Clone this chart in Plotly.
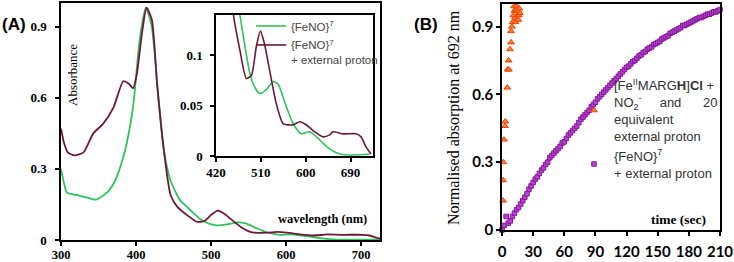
import plotly.graph_objects as go

# ---------------- Panel A data (UV-vis spectra) ----------------
wl_green = [300, 304, 308, 320, 334, 345, 355, 363, 372, 383, 392, 397, 405, 413, 421,
            430, 437, 446, 459, 468, 477, 488, 498, 508, 521, 535, 545, 561, 575, 591,
            608, 628, 648, 668, 695, 728]
abs_green = [0.30, 0.24, 0.20, 0.19, 0.18, 0.17, 0.185, 0.205, 0.25, 0.35, 0.48, 0.59, 0.85,
             0.98, 0.90, 0.59, 0.38, 0.25, 0.166, 0.14, 0.112, 0.082, 0.068, 0.062, 0.066,
             0.074, 0.071, 0.049, 0.032, 0.022, 0.024, 0.016, 0.007, 0.002, 0.001, 0.002]

wl_maroon = [300, 304, 309, 318, 330, 343, 356, 370, 383, 390, 396, 401, 408, 414, 421, 428,
             437, 446, 455, 468, 481, 491, 501, 509, 517, 528, 541, 555, 575, 588, 601, 618,
             635, 648, 655, 675, 701, 711, 721, 731]
abs_maroon = [0.47, 0.41, 0.37, 0.357, 0.37, 0.45, 0.49, 0.56, 0.67, 0.66, 0.64, 0.70, 0.875,
              0.98, 0.93, 0.66, 0.38, 0.19, 0.14, 0.105, 0.077, 0.08, 0.109, 0.124, 0.112,
              0.084, 0.052, 0.032, 0.031, 0.034, 0.031, 0.024, 0.019, 0.021, 0.024, 0.022,
              0.022, 0.019, 0.009, 0.002]

a_xticks = [300, 400, 500, 600, 700]
a_yticks = [0, 0.3, 0.6, 0.9]
inset_xticks = [420, 510, 600, 690]
inset_yticks = [0, 0.05, 0.1]

# ---------------- Panel B data (kinetics) ----------------
t_orange = [0.9, 1.1, 1.3, 1.9, 2.9, 3.2, 5.1, 5.5, 6.4, 6.7, 7.7, 8.7, 8.7, 9.6, 10.3, 10.9,
            11.6, 12.0, 12.5, 13.0, 13.5, 14.2, 14.7, 15.2, 15.7, 16.2, 16.7, 17.3]
v_orange = [0.13, 0.22, 0.30, 0.40, 0.46, 0.48, 0.63, 0.71, 0.75, 0.71, 0.80, 0.83, 0.88, 0.90,
            0.92, 0.95, 0.99, 0.97, 0.94, 0.92, 0.975, 0.99, 0.95, 0.97, 0.93, 0.95, 0.98, 0.96]

t_purple = list(range(0, 211, 2))
v_purple = [0.00, 0.02, 0.06, 0.03, 0.04, 0.06, 0.075, 0.09, 0.10, 0.115,
            0.13, 0.145, 0.16, 0.18, 0.195, 0.21, 0.225, 0.235, 0.25, 0.265,
            0.275, 0.29, 0.30, 0.32, 0.33, 0.34, 0.35, 0.36, 0.37, 0.385,
            0.39, 0.405, 0.42, 0.43, 0.44, 0.45, 0.46, 0.475, 0.49, 0.50,
            0.51, 0.52, 0.53, 0.545, 0.555, 0.565, 0.58, 0.59, 0.60, 0.61,
            0.62, 0.63, 0.64, 0.65, 0.66, 0.67, 0.68, 0.69, 0.70, 0.71,
            0.72, 0.725, 0.735, 0.745, 0.75, 0.76, 0.77, 0.775, 0.785, 0.79,
            0.80, 0.805, 0.81, 0.82, 0.825, 0.83, 0.835, 0.845, 0.85, 0.855,
            0.86, 0.87, 0.875, 0.88, 0.885, 0.89, 0.895, 0.905, 0.905, 0.91,
            0.915, 0.92, 0.925, 0.93, 0.935, 0.94, 0.94, 0.945, 0.95, 0.955,
            0.955, 0.96, 0.965, 0.965, 0.97, 0.975]

b_xticks = [0, 30, 60, 90, 120, 150, 180, 210]
b_yticks = [0, 0.3, 0.6, 0.9]

GREEN = "#2fc35a"
MAROON = "#6e1838"
W, H = 734, 262

fig = go.Figure()

# Panel A main
fig.add_trace(go.Scatter(x=wl_green, y=abs_green, mode="lines", line=dict(color=GREEN, width=1.8, shape="spline", smoothing=0.6),
                         xaxis="x", yaxis="y", showlegend=False))
fig.add_trace(go.Scatter(x=wl_maroon, y=abs_maroon, mode="lines", line=dict(color=MAROON, width=1.8, shape="spline", smoothing=0.6),
                         xaxis="x", yaxis="y", showlegend=False))
# Inset
fig.add_trace(go.Scatter(x=wl_green, y=abs_green, mode="lines", name="{FeNO}<sup>7</sup>",
                         line=dict(color=GREEN, width=1.6, shape="spline", smoothing=0.6),
                         xaxis="x2", yaxis="y2", legend="legend"))
fig.add_trace(go.Scatter(x=wl_maroon, y=abs_maroon, mode="lines", name="{FeNO}<sup>7</sup><br>+ external proton",
                         line=dict(color=MAROON, width=1.6, shape="spline", smoothing=0.6),
                         xaxis="x2", yaxis="y2", legend="legend"))
# Panel B
fig.add_trace(go.Scatter(x=t_orange, y=v_orange, mode="markers", cliponaxis=False,
                         name="[Fe<sup>II</sup>MARG<b>H</b>]<b>Cl</b> +<br>NO<sub>2</sub><sup>-</sup> &nbsp; &nbsp; and &nbsp; &nbsp; &nbsp;20<br>equivalent<br>external proton",
                         marker=dict(symbol="triangle-up", size=6, color="#ff7a2a", line=dict(color="#e8450a", width=1)),
                         xaxis="x3", yaxis="y3", legend="legend2"))
fig.add_trace(go.Scatter(x=t_purple, y=v_purple, mode="markers", cliponaxis=False,
                         name="{FeNO}<sup>7</sup><br>+ external proton",
                         marker=dict(symbol="square", size=4.5, color="#b848cc", line=dict(color="#84149a", width=1)),
                         xaxis="x3", yaxis="y3", legend="legend2"))

serif_b = dict(family="Liberation Serif", size=13, color="black", weight="bold")
serif_bx = dict(family="Liberation Serif", size=12.5, color="black", weight="bold")
sans_b = dict(family="Lato", size=15, color="black", weight="bold")
axis_common = dict(showline=True, mirror=True, linecolor="black", linewidth=1.5, ticks="outside",
                   ticklen=4, tickwidth=1.5, tickcolor="black", showgrid=False, zeroline=False,
                   automargin=False)

def px2x(p):
    return p / W

def px2y(p):
    return 1 - p / H

fig.update_layout(
    width=W, height=H, margin=dict(l=0, r=0, t=0, b=0, autoexpand=False),
    paper_bgcolor="white", plot_bgcolor="white",
    xaxis=dict(domain=[px2x(61), px2x(380)], range=[300, 725], tickvals=a_xticks,
               tickfont=serif_bx, anchor="y", ticklabelstandoff=-2, **axis_common),
    yaxis=dict(domain=[px2y(240), px2y(3)], range=[0, 1.0], tickvals=a_yticks,
               ticktext=["0", "0.3", "0.6", "0.9"], tickfont=serif_b, anchor="x",
               ticklabelstandoff=6, **axis_common),
    xaxis2=dict(domain=[px2x(216), px2x(373)], range=[420, 735], tickvals=inset_xticks,
                tickfont=serif_b, anchor="y2", **axis_common),
    yaxis2=dict(domain=[px2y(156), px2y(15)], range=[0, 0.14], tickvals=inset_yticks,
                ticktext=["0", "0.05", "0.1"], tickfont=serif_b, anchor="x2",
                ticklabelstandoff=5, **axis_common),
    xaxis3=dict(domain=[px2x(502), px2x(720)], range=[0, 210], tickvals=b_xticks,
                tickfont=sans_b, anchor="y3", ticklabelstandoff=3, **axis_common),
    yaxis3=dict(domain=[px2y(230), px2y(4)], range=[0, 1.0], tickvals=b_yticks,
                ticktext=["0", "0.3", "0.6", "0.9"], tickfont=sans_b, anchor="x3",
                **axis_common),
    legend=dict(x=px2x(251), y=px2y(12), xanchor="left", yanchor="top", bgcolor="rgba(0,0,0,0)",
                font=dict(family="Liberation Sans", size=11.5, color="#444"), valign="top",
                tracegroupgap=5, itemwidth=30),
    legend2=dict(x=px2x(574), y=px2y(70), xanchor="left", yanchor="top", bgcolor="rgba(0,0,0,0)",
                 font=dict(family="Liberation Sans", size=13, color="#333"), valign="middle",
                 tracegroupgap=7, itemwidth=30),
    annotations=[
        dict(text="<b>(A)</b>", x=px2x(0), y=px2y(24), xref="paper", yref="paper", xanchor="left",
             yanchor="middle", showarrow=False, font=dict(family="Liberation Sans", size=17, color="black")),
        dict(text="<b>(B)</b>", x=px2x(412), y=px2y(24), xref="paper", yref="paper", xanchor="left",
             yanchor="middle", showarrow=False, font=dict(family="Liberation Sans", size=17, color="black")),
        dict(text="Absorbance", x=px2x(72), y=px2y(75), xref="paper", yref="paper", textangle=-90,
             xanchor="center", yanchor="middle",
             showarrow=False, font=dict(family="Liberation Serif", size=13, color="black")),
        dict(text="<b>wavelength (nm)</b>", x=px2x(322), y=px2y(219), xref="paper", yref="paper",
             xanchor="center", yanchor="middle",
             showarrow=False, font=dict(family="Liberation Serif", size=12.5, color="black")),
        dict(text="<b>time (sec)</b>", x=px2x(678), y=px2y(219), xref="paper", yref="paper",
             xanchor="center", yanchor="middle",
             showarrow=False, font=dict(family="Liberation Serif", size=13.5, color="black")),
        dict(text="Normalised absorption at 692 nm", x=px2x(454), y=px2y(118), xref="paper", yref="paper",
             xanchor="center", yanchor="middle",
             textangle=-90, showarrow=False, font=dict(family="Liberation Serif", size=16, color="black")),
    ],
)

fig.write_html("out.html", config={"displayModeBar": False},
               post_script="document.body.style.margin='0px';")
